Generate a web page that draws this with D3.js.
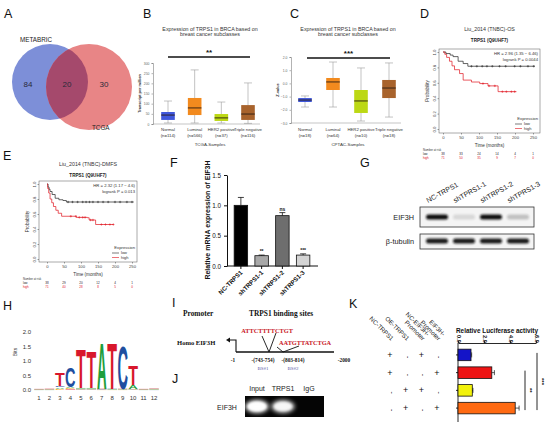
<!DOCTYPE html>
<html>
<head>
<meta charset="utf-8">
<script src="https://cdn.jsdelivr.net/npm/d3@7"></script>
<style>
  body { margin: 0; background: #fff; }
  svg { display: block; }
</style>
</head>
<body>
<div id="chart"></div>
<script>
// ---- data ----
const vennSets = ['METABRIC', 'TCGA']
const vennCounts = [84, 20, 30]

const subtypes = ['Normal', 'Luminal', 'HER2 positive', 'Triple negative']
const tcgaN = [114, 566, 37, 116]
const tcgaMin = [5, 5, 5, 3]
const tcgaQ1 = [20, 44, 15, 20]
const tcgaMedian = [44, 79, 30, 49]
const tcgaQ3 = [59, 128, 49, 93]
const tcgaMax = [113, 266, 108, 202]
const tcgaTicks = [0, 50, 100, 150, 200, 250, 300]

const cptacN = [18, 64, 10, 18]
const cptacMin = [-1.79, -1.79, -2.85, -2.55]
const cptacQ1 = [-1.41, -0.5, -2.24, -1.11]
const cptacMedian = [-1.26, 0.11, -1.33, -0.35]
const cptacQ3 = [-1.11, 0.41, -0.5, 0.26]
const cptacMax = [-0.95, 1.62, 1.17, 1.55]
const cptacTicks = [-3, -2, -1, 0, 1, 2]

const timeTicks = [0, 50, 100, 150, 200, 250]
const probTicks = [0, 0.2, 0.4, 0.6, 0.8, 1]

const osLowT = [0, 8, 20, 28, 42, 56, 69, 255]
const osLowS = [1, 0.98, 0.96, 0.94, 0.88, 0.85, 0.815, 0.815]
const osLowCensor = [79, 94, 109, 122, 137, 157, 174, 199, 215, 236, 252]
const osHighT = [0, 5, 10, 18, 25, 32, 46, 56, 79, 102, 125, 153, 204]
const osHighS = [1, 0.97, 0.93, 0.88, 0.82, 0.77, 0.72, 0.635, 0.61, 0.59, 0.56, 0.485, 0.485]
const osHighCensor = [111, 128, 144, 165, 176, 190, 199]
const osRiskLow = [38, 33, 24, 14, 4, 1]
const osRiskHigh = [71, 50, 35, 9, 7, 0]

const dmfsLowT = [0, 3, 6, 9, 15, 24, 35, 47, 57, 255]
const dmfsLowS = [1, 0.96, 0.93, 0.9, 0.86, 0.81, 0.79, 0.78, 0.76, 0.76]
const dmfsLowCensor = [62, 75, 90, 105, 115, 125, 135, 150, 165, 180, 200, 215, 235, 250]
const dmfsHighT = [0, 2, 5, 9, 14, 19, 26, 33, 43, 86, 119, 124, 143, 196]
const dmfsHighS = [1, 0.94, 0.88, 0.8, 0.75, 0.7, 0.65, 0.61, 0.57, 0.555, 0.55, 0.52, 0.46, 0.46]
const dmfsHighCensor = [70, 85, 95, 105, 112, 128, 135, 160, 172, 185, 195]
const dmfsRiskLow = [38, 29, 20, 12, 4, 1]
const dmfsRiskHigh = [71, 40, 28, 8, 5, 0]

const fGroups = ['NC-TRPS1', 'shTRPS1-1', 'shTRPS1-2', 'shTRPS1-3']
const fValues = [1.0, 0.17, 0.83, 0.18]
const fErrors = [0.13, 0.01, 0.05, 0.02]
const fSignif = ['', '**', 'ns', '***']
const fTicks = [0, 0.5, 1.0, 1.5]

const gLanes = ['NC-TRPS1', 'shTPRS1-1', 'shTRPS1-2', 'shTPRS1-3']
const gEif3h = [1.0, 0.12, 1.0, 0.22]
const gTubulin = [1.0, 1.0, 1.0, 1.0]

const logoPositions = [1, 2, 3, 4, 5, 6, 7, 8, 9, 10, 11, 12]
const logoA = [0.01, 0.01, 0.05, 0.05, 0.03, 0.03, 1.6, 0.02, 0.02, 0.14, 0.01, 0.02]
const logoC = [0.01, 0.01, 0.06, 0.68, 0.02, 0.02, 0.02, 0.02, 1.5, 0.02, 0.01, 0.01]
const logoG = [0.01, 0.01, 0.04, 0.04, 0.02, 0.02, 0.01, 0.01, 0.01, 0.02, 0.01, 0.01]
const logoT = [0.01, 0.02, 0.45, 0.03, 1.38, 1.28, 0.02, 1.6, 0.02, 0.68, 0.01, 0.02]
const logoTicks = [0, 0.5, 1.0, 1.5, 2.0]

const jLanes = ['Input', 'TRPS1', 'IgG']
const jSignal = [1.0, 0.85, 0]

const kHeaders = [['NC-TRPS1'], ['OE-TRPS1'], ['NC-EIF3H-', 'Promoter'], ['EIF3H-', 'Promoter']]
const kNcTrps1 = ['+', '+', '-', '-']
const kOeTrps1 = ['-', '-', '+', '+']
const kNcPromoter = ['+', '-', '+', '-']
const kPromoter = ['-', '+', '-', '+']
const kValues = [1.0, 2.6, 1.1, 4.4]
const kErrors = [0.05, 0.2, 0.05, 0.3]
const kTicks = [0, 2, 4, 6]

// ---- styles ----
const boxColors = ['#4058dc', '#f28a1e', '#bcd814', '#a8632c']
const kColors = ['#1414c8', '#ee1414', '#f2f20c', '#ff6a12']
const fColors = ['#000000', '#a8a8a8', '#6e6e6e', '#d4d4d4']
const baseColors = { A: '#1e9e3c', C: '#1f4fa0', G: '#f5a100', T: '#d8172c' }
const glyphW = { A: 0.72, C: 0.66, G: 0.71, T: 0.6 }
const sans = 'Liberation Sans, Arial, sans-serif'
const serif = 'Liberation Serif, Times New Roman, serif'

const width = 550
const height = 427

const svg = d3.select('#chart').append('svg')
  .attr('width', width).attr('height', height)
  .attr('font-family', sans)
svg.append('rect').attr('width', width).attr('height', height).attr('fill', '#fff')

const defs = svg.append('defs')
defs.append('filter').attr('id', 'blur').attr('x', '-50%').attr('y', '-50%').attr('width', '200%').attr('height', '200%')
  .append('feGaussianBlur').attr('stdDeviation', 1.1)
defs.append('filter').attr('id', 'glow').attr('x', '-50%').attr('y', '-50%').attr('width', '200%').attr('height', '200%')
  .append('feGaussianBlur').attr('stdDeviation', 2.2)

function txt(g, x, y, s, size, opts = {}) {
  const t = g.append('text').attr('x', x).attr('y', y).attr('font-size', size)
    .attr('text-anchor', opts.anchor || 'start').attr('fill', opts.fill || '#222')
    .text(s)
  if (opts.weight) t.attr('font-weight', opts.weight)
  if (opts.family) t.attr('font-family', opts.family)
  if (opts.rotate !== undefined) t.attr('transform', `rotate(${opts.rotate},${x},${y})`)
  return t
}

function styleAxis(g, size, color) {
  g.attr('font-family', sans)
  g.selectAll('text').attr('font-size', size).attr('fill', color)
  g.selectAll('path,line').attr('stroke', color).attr('stroke-width', 0.5)
}

// panel letters
const panelLetters = [['A', 4, 18], ['B', 143, 18], ['C', 290, 18], ['D', 420, 18], ['E', 3, 160],
  ['F', 170, 167], ['G', 360, 167], ['H', 3, 310], ['I', 172, 307], ['J', 172, 383], ['K', 349, 308]]
panelLetters.forEach(p => txt(svg, p[1], p[2], p[0], 12.5, { fill: '#111' }))

// ---- A: Venn ----
const gA = svg.append('g')
const vennCircles = [{ cx: 50, cy: 82, r: 38 }, { cx: 89, cy: 87, r: 43 }]
defs.append('clipPath').attr('id', 'clipBlue').append('circle')
  .attr('cx', vennCircles[0].cx).attr('cy', vennCircles[0].cy).attr('r', vennCircles[0].r)
gA.append('circle').attr('cx', vennCircles[0].cx).attr('cy', vennCircles[0].cy).attr('r', vennCircles[0].r).attr('fill', '#7d8fd8')
gA.append('circle').attr('cx', vennCircles[1].cx).attr('cy', vennCircles[1].cy).attr('r', vennCircles[1].r).attr('fill', '#e88586')
gA.append('circle').attr('clip-path', 'url(#clipBlue)')
  .attr('cx', vennCircles[1].cx).attr('cy', vennCircles[1].cy).attr('r', vennCircles[1].r).attr('fill', '#a5496c')
txt(gA, 20, 42, vennSets[0], 6.3)
txt(gA, 92, 130, vennSets[1], 6.3)
;[28, 67, 104].forEach((x, i) => txt(gA, x, 87, vennCounts[i], 8, { anchor: 'middle', fill: '#2a2a3a' }))

// ---- B, C: box plots ----
function boxPlot(o) {
  const x = d3.scalePoint().domain(subtypes).range(o.xRange)
  const y = d3.scaleLinear().domain(o.yDomain).range(o.yRange)
  const g = svg.append('g')
  const ya = g.append('g').attr('transform', `translate(${o.axisX},0)`)
    .call(d3.axisLeft(y).tickValues(o.ticks).tickSize(1.5).tickPadding(2))
  styleAxis(ya, 3.4, '#666')
  g.append('line').attr('x1', o.axisX).attr('x2', o.xRange[1] + 12)
    .attr('y1', o.yRange[0]).attr('y2', o.yRange[0]).attr('stroke', '#888').attr('stroke-width', 0.5)
  txt(g, o.titleX, 30.5, 'Expression of TRPS1 in BRCA based on', 5.3, { anchor: 'middle', fill: '#333' })
  txt(g, o.titleX, 36, 'breast cancer subclasses', 5.3, { anchor: 'middle', fill: '#333' })
  g.append('line').attr('x1', o.sigX[0]).attr('x2', o.sigX[1]).attr('y1', o.sigY).attr('y2', o.sigY)
    .attr('stroke', '#111').attr('stroke-width', 1.4)
  txt(g, (o.sigX[0] + o.sigX[1]) / 2, o.sigY - 2, o.sig, 8, { anchor: 'middle', weight: 'bold', fill: '#111' })
  txt(g, o.axisX - 12, (o.yRange[0] + o.yRange[1]) / 2, o.yLabel, 3.8, { anchor: 'middle', weight: 'bold', rotate: -90, fill: '#333' })
  txt(g, o.titleX, 146, o.xTitle, 4.4, { anchor: 'middle', fill: '#333' })
  subtypes.forEach((s, i) => {
    const cx = x(s)
    const st = o.stats
    g.append('line').attr('x1', cx).attr('x2', cx).attr('y1', y(st[0][i])).attr('y2', y(st[4][i]))
      .attr('stroke', '#9a9a9a').attr('stroke-width', 0.6)
    ;[st[0][i], st[4][i]].forEach(v => g.append('line').attr('x1', cx - 4).attr('x2', cx + 4)
      .attr('y1', y(v)).attr('y2', y(v)).attr('stroke', '#9a9a9a').attr('stroke-width', 0.6))
    g.append('rect').attr('x', cx - 6.8).attr('width', 13.6).attr('y', y(st[3][i]))
      .attr('height', y(st[1][i]) - y(st[3][i])).attr('fill', boxColors[i])
    g.append('line').attr('x1', cx - 6.8).attr('x2', cx + 6.8).attr('y1', y(st[2][i])).attr('y2', y(st[2][i]))
      .attr('stroke', '#2a1c12').attr('stroke-width', 0.9)
    txt(g, cx, 130.5, s, 4.3, { anchor: 'middle', fill: '#333' })
    txt(g, cx, 136.5, `(n=${o.n[i]})`, 4.3, { anchor: 'middle', fill: '#333' })
  })
}

boxPlot({
  xRange: [168, 248], yDomain: [0, 300], yRange: [124, 63], axisX: 153, ticks: tcgaTicks,
  stats: [tcgaMin, tcgaQ1, tcgaMedian, tcgaQ3, tcgaMax], n: tcgaN,
  titleX: 210, sigX: [168, 250], sigY: 57, sig: '**', yLabel: 'Transcript per million', xTitle: 'TCGA-Samples'
})
boxPlot({
  xRange: [305, 389], yDomain: [-3, 2], yRange: [123, 57], axisX: 291, ticks: cptacTicks,
  stats: [cptacMin, cptacQ1, cptacMedian, cptacQ3, cptacMax], n: cptacN,
  titleX: 348, sigX: [307, 390], sigY: 58, sig: '***', yLabel: 'Z-value', xTitle: 'CPTAC-Samples'
})

// ---- D, E: Kaplan-Meier ----
function kmPlot(o) {
  const x = d3.scaleLinear().domain([0, 250]).range(o.xr)
  const y = d3.scaleLinear().domain([0, 1]).range(o.yr)
  const [fx0, fx1, fy0, fy1] = o.frame
  const g = svg.append('g')
  g.append('rect').attr('x', fx0).attr('y', fy0).attr('width', fx1 - fx0).attr('height', fy1 - fy0)
    .attr('fill', 'none').attr('stroke', '#555').attr('stroke-width', 0.5)
  const xa = g.append('g').attr('transform', `translate(0,${fy1})`)
    .call(d3.axisBottom(x).tickValues(timeTicks).tickSize(1.5).tickPadding(1.2))
  xa.select('.domain').remove()
  styleAxis(xa, 4.2, '#444')
  const ya = g.append('g').attr('transform', `translate(${fx0},0)`)
    .call(d3.axisLeft(y).tickValues(probTicks).tickFormat(d3.format('.1f')).tickSize(1.5))
  ya.select('.domain').remove()
  styleAxis(ya, 4.2, '#444')
  ya.selectAll('text').attr('transform', 'rotate(-90)').attr('x', 0).attr('y', -3.2).attr('dy', 0).attr('text-anchor', 'middle')
  const midX = (fx0 + fx1) / 2
  txt(g, midX, o.titleY, o.title, 5.3, { anchor: 'middle', fill: '#333' })
  txt(g, midX, o.titleY + 11, 'TRPS1 (Q9UHF7)', 4.6, { anchor: 'middle', weight: 'bold', fill: '#222' })
  txt(g, fx0 - 10, (fy0 + fy1) / 2, 'Probability', 4.6, { anchor: 'middle', rotate: -90, fill: '#333' })
  txt(g, midX, fy1 + 14, 'Time (months)', 4.6, { anchor: 'middle', fill: '#333' })
  txt(g, fx1 - 2, fy0 + 6, o.hr, 4.2, { anchor: 'end', fill: '#333' })
  txt(g, fx1 - 2, fy0 + 11.5, o.p, 4.2, { anchor: 'end', fill: '#333' })
  // legend
  txt(g, fx1 - 2, fy1 - 13, 'Expression', 4.2, { anchor: 'end', fill: '#333' })
  ;[['low', '#222'], ['high', '#e0141e']].forEach((l, i) => {
    const ly = fy1 - 9 + i * 4.5
    g.append('line').attr('x1', fx1 - 25).attr('x2', fx1 - 18).attr('y1', ly).attr('y2', ly).attr('stroke', l[1]).attr('stroke-width', 0.6)
    txt(g, fx1 - 16, ly + 1.4, l[0], 4, { fill: '#333' })
  })
  // risk table
  txt(g, fx0 - 16, fy1 + 18, 'Number at risk', 2.8, { fill: '#333' })
  ;[[o.riskLow, 'low', '#222'], [o.riskHigh, 'high', '#e0141e']].forEach((r, i) => {
    const ry = fy1 + 22 + i * 3.6
    txt(g, fx0 - 16, ry, r[1], 3, { fill: r[2] })
    timeTicks.forEach((t, j) => txt(g, x(t), ry, r[0][j], 3, { anchor: 'middle', fill: r[2] }))
  })
  const line = d3.line().x(d => x(d[0])).y(d => y(d[1])).curve(d3.curveStepAfter)
  ;[[o.lowT, o.lowS, o.lowC, '#222'], [o.highT, o.highS, o.highC, '#e0141e']].forEach(([t, s, cens, c]) => {
    g.append('path').datum(d3.zip(t, s)).attr('d', line).attr('fill', 'none').attr('stroke', c).attr('stroke-width', 0.7)
    cens.forEach(ct => {
      const sv = s[d3.bisectRight(t, ct) - 1]
      const px = x(ct), py = y(sv)
      g.append('path').attr('d', `M${px - 1.2},${py}H${px + 1.2}M${px},${py - 1.2}V${py + 1.2}`)
        .attr('stroke', c).attr('stroke-width', 0.5)
    })
  })
}

kmPlot({
  frame: [439, 540, 49, 133], xr: [443, 533], yr: [129, 52], titleY: 31,
  title: 'Liu_2014 (TNBC)-OS', hr: 'HR = 2.96 (1.35 \u2212 6.46)', p: 'logrank P = 0.0044',
  lowT: osLowT, lowS: osLowS, lowC: osLowCensor, highT: osHighT, highS: osHighS, highC: osHighCensor,
  riskLow: osRiskLow, riskHigh: osRiskHigh
})
kmPlot({
  frame: [39, 137, 181, 262], xr: [47, 132], yr: [259, 184], titleY: 166,
  title: 'Liu_2014 (TNBC)-DMFS', hr: 'HR = 2.32 (1.17 \u2212 4.6)', p: 'logrank P = 0.013',
  lowT: dmfsLowT, lowS: dmfsLowS, lowC: dmfsLowCensor, highT: dmfsHighT, highS: dmfsHighS, highC: dmfsHighCensor,
  riskLow: dmfsRiskLow, riskHigh: dmfsRiskHigh
})

// ---- F: qPCR bars ----
const gF = svg.append('g')
const fx = d3.scaleBand().domain(fGroups).range([230, 314]).paddingInner(0.35).paddingOuter(0.2)
const fy = d3.scaleLinear().domain([0, 1.5]).range([266, 175])
const fAxisY = gF.append('g').attr('transform', 'translate(227,0)')
  .call(d3.axisLeft(fy).tickValues(fTicks).tickFormat(d3.format('.1f')).tickSize(3).tickSizeOuter(0))
styleAxis(fAxisY, 6.3, '#111')
fAxisY.selectAll('path,line').attr('stroke-width', 1)
const fAxisX = gF.append('g').attr('transform', 'translate(0,266)')
  .call(d3.axisBottom(fx).tickSize(3).tickSizeOuter(0).tickFormat(''))
fAxisX.select('.domain').attr('d', 'M227,0H318')
styleAxis(fAxisX, 6, '#111')
fAxisX.selectAll('path,line').attr('stroke-width', 1)
fGroups.forEach((grp, i) => {
  const bx = fx(grp), bw = fx.bandwidth(), cx = bx + bw / 2
  gF.append('rect').attr('x', bx).attr('width', bw).attr('y', fy(fValues[i])).attr('height', fy(0) - fy(fValues[i]))
    .attr('fill', fColors[i]).attr('stroke', '#111').attr('stroke-width', 0.8)
  const top = fy(fValues[i] + fErrors[i])
  gF.append('path').attr('d', `M${cx},${fy(fValues[i])}V${top}M${cx - 3},${top}H${cx + 3}`).attr('stroke', '#111').attr('stroke-width', 0.8)
  if (fSignif[i]) txt(gF, cx, top - 2, fSignif[i], 5, { anchor: 'middle', weight: 'bold', fill: '#111' })
  txt(gF, cx + 2, 273, grp, 6.2, { anchor: 'end', weight: 'bold', rotate: -45, fill: '#111' })
})
txt(gF, 210, 220, 'Relative mRNA expression of EIF3H', 7, { anchor: 'middle', weight: 'bold', rotate: -90, fill: '#111' })

// ---- G: western blot ----
const gG = svg.append('g')
const gx = d3.scalePoint().domain(gLanes).range([437, 518])
gG.append('rect').attr('x', 420).attr('y', 207).attr('width', 114).attr('height', 20)
  .attr('fill', '#f4f4f4').attr('stroke', '#333').attr('stroke-width', 0.8)
gG.append('rect').attr('x', 420).attr('y', 234).attr('width', 114).attr('height', 15)
  .attr('fill', '#f4f4f4').attr('stroke', '#333').attr('stroke-width', 0.8)
gLanes.forEach((lane, i) => {
  const cx = gx(lane)
  gG.append('rect').attr('x', cx - 11).attr('y', 214.5).attr('width', 22).attr('height', 5).attr('rx', 2.5)
    .attr('fill', '#111').attr('opacity', gEif3h[i]).attr('filter', 'url(#blur)')
  gG.append('rect').attr('x', cx - 11).attr('y', 238.5).attr('width', 22).attr('height', 5).attr('rx', 2.5)
    .attr('fill', '#111').attr('opacity', gTubulin[i] * 0.95).attr('filter', 'url(#blur)')
  txt(gG, cx - 9, 203, lane, 7, { rotate: -29, fill: '#222' })
})
txt(gG, 414, 220, 'EIF3H', 7.3, { anchor: 'end', fill: '#222' })
txt(gG, 414, 243.5, '\u03b2-tubulin', 7.3, { anchor: 'end', fill: '#222' })

// ---- H: sequence logo ----
const gH = svg.append('g')
const lx = d3.scaleLinear().domain([1, 12]).range([39, 154])
const ly = d3.scaleLinear().domain([0, 2]).range([390, 332])
const logoBits = { A: logoA, C: logoC, G: logoG, T: logoT }
logoTicks.forEach(t => txt(gH, 31, ly(t) + 2, d3.format('.1f')(t), 6, { anchor: 'end', fill: '#333' }))
logoPositions.forEach(p => txt(gH, lx(p), 400, p, 6, { anchor: 'middle', fill: '#333' }))
txt(gH, 17, 352, 'Bits', 5, { anchor: 'middle', rotate: -90, fill: '#333' })
logoPositions.forEach((p, i) => {
  const stack = Object.keys(logoBits).map(b => ({ b, h: logoBits[b][i] })).sort((a, b) => a.h - b.h)
  let acc = 0
  stack.forEach(s => {
    const yb = ly(acc), yt = ly(acc + s.h)
    acc += s.h
    const hh = yb - yt
    if (hh < 1) {
      // too thin to show as a glyph: a faint sliver
      gH.append('rect').attr('x', lx(p) - 4.8).attr('width', 9.6).attr('y', yt).attr('height', Math.max(hh, 0.4))
        .attr('fill', baseColors[s.b]).attr('opacity', 0.5)
      return
    }
    gH.append('text').attr('transform', `translate(${lx(p)},${yb}) scale(${9.6 / (glyphW[s.b] * 100)},${hh / 72})`)
      .attr('text-anchor', 'middle').attr('font-size', 100).attr('font-weight', 'bold')
      .attr('fill', baseColors[s.b]).text(s.b)
  })
})

// ---- I: binding site schematic ----
const gI = svg.append('g').attr('font-family', serif)
txt(gI, 183, 316, 'Promoter', 7.4, { weight: 'bold', family: serif, fill: '#111' })
txt(gI, 249, 316, 'TRPS1 binding sites', 7.4, { weight: 'bold', family: serif, fill: '#111' })
txt(gI, 177, 344.5, 'Homo EIF3H', 6.6, { weight: 'bold', family: serif, fill: '#111' })
gI.append('path').attr('d', 'M236,352V340H229').attr('fill', 'none').attr('stroke', '#111').attr('stroke-width', 1.1)
gI.append('path').attr('d', 'M226,340L230,337.6L230,342.4Z').attr('fill', '#111')
gI.append('line').attr('x1', 236).attr('x2', 334).attr('y1', 352).attr('y2', 352).attr('stroke', '#111').attr('stroke-width', 1.4)
gI.append('path').attr('d', 'M262,336L269,352L276,333').attr('fill', 'none').attr('stroke', '#111').attr('stroke-width', 0.9)
gI.append('path').attr('d', 'M277,347L283,352L299,346').attr('fill', 'none').attr('stroke', '#111').attr('stroke-width', 0.9)
txt(gI, 267, 333, 'ATTCTTTTCTGT', 6.3, { anchor: 'middle', weight: 'bold', family: serif, fill: '#c8141e' })
txt(gI, 279, 345, 'AATGTTATCTGA', 6.3, { weight: 'bold', family: serif, fill: '#c8141e' })
txt(gI, 233, 362, '-1', 5.3, { anchor: 'middle', weight: 'bold', family: serif, fill: '#111' })
txt(gI, 344, 362, '-2000', 5.3, { anchor: 'middle', weight: 'bold', family: serif, fill: '#111' })
txt(gI, 263, 362, '-(743-754)', 5.3, { anchor: 'middle', weight: 'bold', family: serif, fill: '#111' })
txt(gI, 293, 362, '-(803-814)', 5.3, { anchor: 'middle', weight: 'bold', family: serif, fill: '#111' })
txt(gI, 263, 369.5, 'BS#1', 5, { anchor: 'middle', family: serif, fill: '#5a5aa8' })
txt(gI, 293, 369.5, 'BS#2', 5, { anchor: 'middle', family: serif, fill: '#5a5aa8' })

// ---- J: ChIP gel ----
const gJ = svg.append('g')
const jx = d3.scalePoint().domain(jLanes).range([257, 309])
gJ.append('rect').attr('x', 245).attr('y', 396).attr('width', 79).attr('height', 21).attr('fill', '#050505')
jLanes.forEach((lane, i) => {
  txt(gJ, jx(lane), 391, lane, 7, { anchor: 'middle', fill: '#222' })
  if (jSignal[i] > 0) {
    gJ.append('ellipse').attr('cx', jx(lane)).attr('cy', 406.5).attr('rx', 11.5).attr('ry', 6.5)
      .attr('fill', '#fff').attr('opacity', jSignal[i]).attr('filter', 'url(#glow)')
    gJ.append('ellipse').attr('cx', jx(lane)).attr('cy', 406.5).attr('rx', 9).attr('ry', 4.5)
      .attr('fill', '#fff').attr('opacity', jSignal[i] * 0.9).attr('filter', 'url(#blur)')
  }
})
txt(gJ, 227, 410, 'EIF3H', 7, { anchor: 'middle', fill: '#222' })

// ---- K: luciferase ----
const gK = svg.append('g')
const kCols = [kNcTrps1, kOeTrps1, kNcPromoter, kPromoter]
const kcx = d3.scalePoint().domain(d3.range(4)).range([390, 437])
const kx = d3.scaleLinear().domain([0, 6]).range([458, 536])
const ky = d3.scaleBand().domain(d3.range(4)).range([346.5, 416.5]).paddingInner(0.35).paddingOuter(0.15)
kHeaders.forEach((hdr, j) => {
  const hx = kcx(j) + 1, hy = 341
  const t = gK.append('text').attr('transform', `translate(${hx},${hy}) rotate(45)`)
    .attr('text-anchor', 'end').attr('font-size', 6.2).attr('fill', '#222')
  hdr.forEach((line, k) => t.append('tspan').attr('x', 0).attr('y', (k - hdr.length + 1) * 6.5).text(line))
})
kCols.forEach((col, j) => col.forEach((sign, i) => {
  const cy = ky(i) + ky.bandwidth() / 2
  if (sign === '+') txt(gK, kcx(j), cy + 3, sign, 9, { anchor: 'middle', fill: '#111' })
  else txt(gK, kcx(j), cy + 2.2, sign, 7, { anchor: 'middle', fill: '#111', rotate: 90 })
}))
const kAxisTop = gK.append('g').attr('transform', 'translate(0,343)')
  .call(d3.axisTop(kx).tickValues(kTicks).tickSize(2).tickSizeOuter(0).tickPadding(1.5))
styleAxis(kAxisTop, 5.6, '#111')
kAxisTop.selectAll('path,line').attr('stroke-width', 0.9)
kAxisTop.selectAll('text').attr('font-weight', 'bold').attr('transform', 'rotate(90)')
  .attr('x', -4).attr('y', 0).attr('dy', '0.35em').attr('text-anchor', 'middle')
const kAxisLeft = gK.append('g').attr('transform', 'translate(458,0)')
  .call(d3.axisLeft(ky).tickSize(2).tickSizeOuter(0).tickFormat(''))
kAxisLeft.select('.domain').attr('d', 'M0,343V422')
styleAxis(kAxisLeft, 5, '#111')
kAxisLeft.selectAll('path,line').attr('stroke-width', 0.9)
kValues.forEach((v, i) => {
  const by = ky(i), bh = ky.bandwidth(), cy = by + bh / 2
  gK.append('rect').attr('x', kx(0)).attr('y', by).attr('width', kx(v) - kx(0)).attr('height', bh)
    .attr('fill', kColors[i]).attr('stroke', '#111').attr('stroke-width', 0.8)
  const ex = kx(v + kErrors[i])
  gK.append('path').attr('d', `M${kx(v)},${cy}H${ex}M${ex},${cy - 2.5}V${cy + 2.5}`).attr('stroke', '#111').attr('stroke-width', 0.7)
})
txt(gK, 497, 332.5, 'Relative Luciferase activity', 6.4, { anchor: 'middle', weight: 'bold', fill: '#111' })
const kSig = [[1, 3, 525, '**'], [0, 3, 537, '***']]
kSig.forEach(([a, b, x, lab]) => {
  const y1 = ky(a) + ky.bandwidth() / 2 - 2, y2 = ky(b) + ky.bandwidth() / 2 + 2
  gK.append('line').attr('x1', x).attr('x2', x).attr('y1', y1).attr('y2', y2).attr('stroke', '#111').attr('stroke-width', 0.9)
  txt(gK, x + 3, (y1 + y2) / 2, lab, 6, { anchor: 'middle', weight: 'bold', fill: '#111', rotate: 90 })
})
</script>
</body>
</html>
